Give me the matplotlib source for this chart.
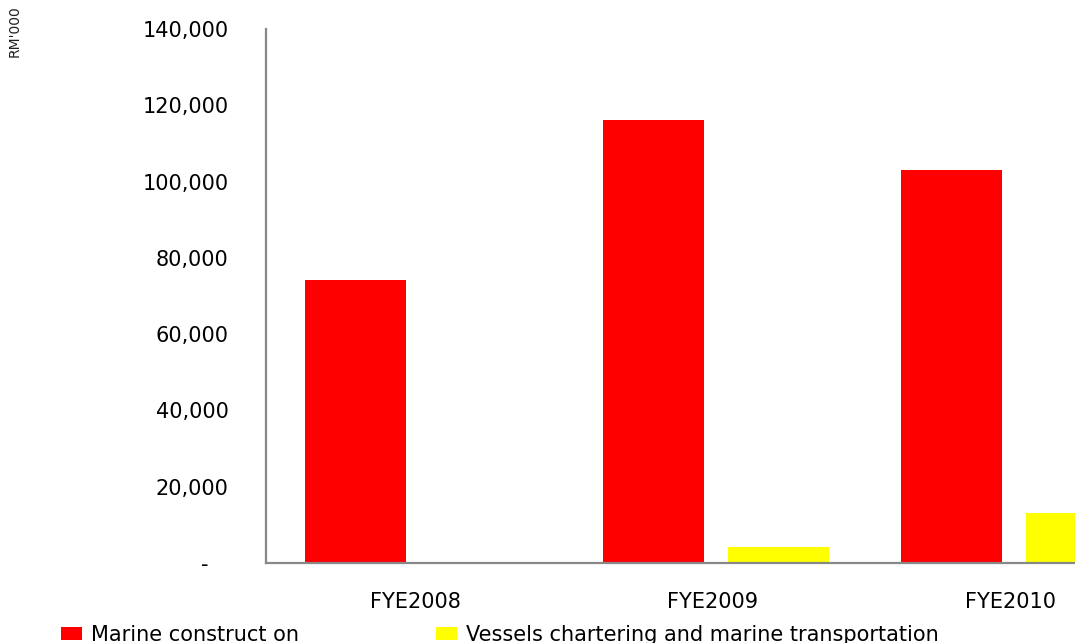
import matplotlib
matplotlib.use('Agg')
import matplotlib.pyplot as plt
import matplotlib.patches as patches
import numpy as np

# values (RM'000)
years = ['FYE2008', 'FYE2009', 'FYE2010']
marine_construction = [74200, 116100, 103000]
vessels_chartering = [0, 4200, 13100]
series_names = ['Marine construct on', 'Vessels chartering and marine transportation']
series_colors = ['#FF0000', '#FFFF00']
yticks = [0, 20000, 40000, 60000, 80000, 100000, 120000, 140000]

plt.rcParams['font.family'] = ['DejaVu Sans']

fig = plt.figure(figsize=(10.75, 6.43), dpi=100)
# axes runs past the right edge of the figure, like the cropped original
ax = fig.add_axes([266 / 1075, 80 / 643, 894 / 1075, 534 / 643])

x = np.arange(len(years))
w = 0.34
ax.bar(x - 0.199, marine_construction, w, color=series_colors[0], zorder=2)
ax.bar(x + 0.219, vessels_chartering, w, color=series_colors[1], zorder=2)

ax.set_xlim(-0.5, 2.5)
ax.set_ylim(0, 140000)
ax.set_yticks(yticks)
ax.set_yticklabels(['-   '] + ['{:,}'.format(v) for v in yticks[1:]], fontsize=15)
ax.set_xticks(x)
ax.set_xticklabels(years, fontsize=15)
ax.tick_params(axis='y', length=0, pad=27)
ax.tick_params(axis='x', length=0, pad=21)

for s in ['top', 'right']:
    ax.spines[s].set_visible(False)
for s in ['left', 'bottom']:
    ax.spines[s].set_color('#888888')
    ax.spines[s].set_linewidth(1.6)

fig.text(15 / 1075, 1 - 31 / 643, "RM'000", rotation=90, fontsize=10,
         ha='center', va='center', color='#222222')

# two legend entries, placed separately to match the original spacing
for name, col, xpos in zip(series_names, series_colors, [61, 436]):
    h = patches.Patch(facecolor=col, edgecolor='none')
    fig.legend([h], [name], loc='center left',
               bbox_to_anchor=(xpos / 1075, 8 / 643), frameon=False,
               fontsize=15, borderpad=0, borderaxespad=0,
               handlelength=1.0, handleheight=0.6, handletextpad=0.45)

fig.savefig('out.png', dpi=100)
